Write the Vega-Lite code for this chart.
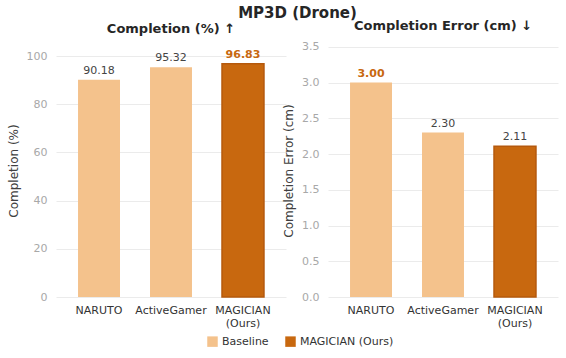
{
  "$schema": "https://vega.github.io/schema/vega-lite/v6.json",
  "background": "white",
  "padding": {"left": 7, "top": 5, "right": 6, "bottom": 4},
  "title": {"text": "MP3D (Drone)", "fontSize": 15, "font": "DejaVu Sans", "fontWeight": "bold", "anchor": "middle", "color": "#262626", "offset": 0, "dy": 1, "dx": 15},
  "datasets": {
    "comp": [
      {"method": "NARUTO", "type": "Baseline", "value": 90.18},
      {"method": "ActiveGamer", "type": "Baseline", "value": 95.32},
      {"method": "MAGICIAN (Ours)", "type": "MAGICIAN (Ours)", "value": 96.83}
    ],
    "err": [
      {"method": "NARUTO", "type": "Baseline", "value": 3.00},
      {"method": "ActiveGamer", "type": "Baseline", "value": 2.30},
      {"method": "MAGICIAN (Ours)", "type": "MAGICIAN (Ours)", "value": 2.11}
    ]
  },
  "spacing": -4,
  "hconcat": [
    {
      "data": {"name": "comp"},
      "width": 230,
      "height": 253,
      "title": {"text": "Completion (%) ↑", "dy": -2},
      "transform": [{"joinaggregate": [{"op": "max", "field": "value", "as": "maxv"}]}],
      "encoding": {
        "x": {"field": "method", "type": "nominal", "sort": null, "title": null,
              "scale": {"paddingInner": 0.417, "paddingOuter": 0.306},
              "axis": {"labelAngle": 0, "labelExpr": "datum.label == 'MAGICIAN (Ours)' ? ['MAGICIAN', '(Ours)'] : datum.label"}},
        "y": {"field": "value", "type": "quantitative", "title": "Completion (%)",
              "scale": {"domain": [0, 105], "nice": false},
              "axis": {"values": [0, 20, 40, 60, 80, 100]}}
      },
      "layer": [
        {"mark": {"type": "bar", "stroke": "#b5590d"},
         "encoding": {
           "color": {"field": "type", "type": "nominal", "title": null,
                     "scale": {"domain": ["Baseline", "MAGICIAN (Ours)"], "range": ["#f4c28c", "#c8680f"]},
                     "legend": {"orient": "none", "legendX": 151, "legendY": 292}},
           "strokeWidth": {"condition": {"test": "datum.type == 'MAGICIAN (Ours)'", "value": 1.5}, "value": 0}
         }},
        {"transform": [{"filter": "datum.value != datum.maxv"}],
         "mark": {"type": "text", "baseline": "bottom", "dy": -4, "fontSize": 11, "color": "#444444"},
         "encoding": {"text": {"field": "value", "type": "quantitative", "format": ".2f"}}},
        {"transform": [{"filter": "datum.value == datum.maxv"}],
         "mark": {"type": "text", "baseline": "bottom", "dy": -4, "fontSize": 11, "fontWeight": "bold", "color": "#c8680f"},
         "encoding": {"text": {"field": "value", "type": "quantitative", "format": ".2f"}}}
      ]
    },
    {
      "data": {"name": "err"},
      "width": 230,
      "height": 253,
      "title": {"text": "Completion Error (cm) ↓", "dy": -2},
      "transform": [{"joinaggregate": [{"op": "max", "field": "value", "as": "maxv"}]}],
      "encoding": {
        "x": {"field": "method", "type": "nominal", "sort": null, "title": null,
              "scale": {"paddingInner": 0.417, "paddingOuter": 0.306},
              "axis": {"labelAngle": 0, "labelExpr": "datum.label == 'MAGICIAN (Ours)' ? ['MAGICIAN', '(Ours)'] : datum.label"}},
        "y": {"field": "value", "type": "quantitative", "title": "Completion Error (cm)",
              "scale": {"domain": [0, 3.54], "nice": false},
              "axis": {"values": [0, 0.5, 1, 1.5, 2, 2.5, 3, 3.5], "format": ".1f"}}
      },
      "layer": [
        {"mark": {"type": "bar", "stroke": "#b5590d"},
         "encoding": {
           "color": {"field": "type", "type": "nominal", "title": null,
                     "scale": {"domain": ["Baseline", "MAGICIAN (Ours)"], "range": ["#f4c28c", "#c8680f"]},
                     "legend": {"orient": "none", "legendX": 151, "legendY": 292}},
           "strokeWidth": {"condition": {"test": "datum.type == 'MAGICIAN (Ours)'", "value": 1.5}, "value": 0}
         }},
        {"transform": [{"filter": "datum.value != datum.maxv"}],
         "mark": {"type": "text", "baseline": "bottom", "dy": -4, "fontSize": 11, "color": "#444444"},
         "encoding": {"text": {"field": "value", "type": "quantitative", "format": ".2f"}}},
        {"transform": [{"filter": "datum.value == datum.maxv"}],
         "mark": {"type": "text", "baseline": "bottom", "dy": -4, "fontSize": 11, "fontWeight": "bold", "color": "#c8680f"},
         "encoding": {"text": {"field": "value", "type": "quantitative", "format": ".2f"}}}
      ]
    }
  ],
  "resolve": {"legend": {"color": "shared"}},
  "config": {
    "font": "DejaVu Sans",
    "view": {"stroke": null},
    "title": {"fontSize": 13, "fontWeight": "bold", "color": "#262626", "offset": 6},
    "axis": {"domain": false, "ticks": false, "grid": true, "gridColor": "#ebebeb", "gridWidth": 1,
             "labelFont": "DejaVu Sans", "titleFont": "DejaVu Sans", "titleFontWeight": "normal"},
    "axisX": {"grid": false, "labelFontSize": 11, "labelColor": "#333333", "labelPadding": 7},
    "axisY": {"labelFontSize": 11, "labelColor": "#a8a8a8", "labelPadding": 9, "titleFontSize": 12, "titleColor": "#404040", "titlePadding": 6},
    "legend": {"direction": "horizontal", "symbolType": "square", "symbolSize": 110,
               "symbolStrokeWidth": 0, "labelFontSize": 11, "labelColor": "#333333", "columnPadding": 16,
               "labelFont": "DejaVu Sans"}
  }
}
